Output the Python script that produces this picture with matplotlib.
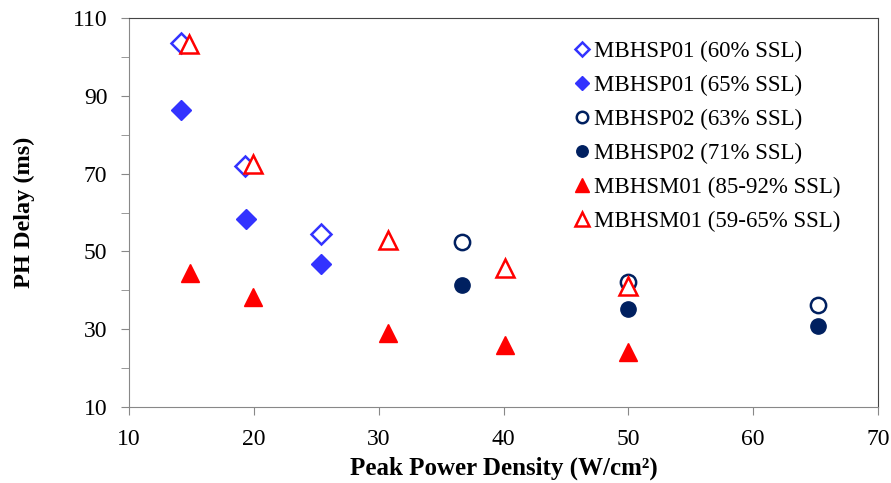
import matplotlib
matplotlib.use("Agg")
import matplotlib.pyplot as plt
import numpy as np

plt.rcParams['font.family'] = ['Liberation Serif', 'DejaVu Serif']

# data
sp01_60_x = [14.2, 19.3, 25.4]
sp01_60_y = [103.5, 72.0, 54.5]
sp01_65_x = [14.2, 19.4, 25.4]
sp01_65_y = [86.3, 58.4, 46.8]
sp02_63_x = [36.7, 50.0, 65.2]
sp02_63_y = [52.4, 42.1, 36.2]
sp02_71_x = [36.7, 50.0, 65.2]
sp02_71_y = [41.4, 35.2, 30.9]
sm01_hi_x = [14.9, 19.9, 30.75, 40.1, 50.0]
sm01_hi_y = [44.4, 38.3, 29.1, 26.0, 24.1]
sm01_lo_x = [14.8, 19.9, 30.75, 40.1, 50.0]
sm01_lo_y = [103.3, 72.4, 53.0, 45.7, 41.0]

blue = '#3333FF'
navy = '#002060'
red = '#FF0000'

fig = plt.figure(figsize=(8.91, 4.83), dpi=100)
ax = fig.add_axes([0.1448, 0.1573, 0.8406, 0.8054])

ax.plot(sp01_60_x, sp01_60_y, 'D', ms=10, mfc='white', mec=blue, mew=1.8, ls='none',
        label='MBHSP01 (60% SSL)')
ax.plot(sp01_65_x, sp01_65_y, 'D', ms=10, mfc=blue, mec=blue, ls='none',
        label='MBHSP01 (65% SSL)')
ax.plot(sp02_63_x, sp02_63_y, 'o', ms=11, mfc='white', mec=navy, mew=1.8, ls='none',
        label='MBHSP02 (63% SSL)')
ax.plot(sp02_71_x, sp02_71_y, 'o', ms=11, mfc=navy, mec=navy, ls='none',
        label='MBHSP02 (71% SSL)')
ax.plot(sm01_hi_x, sm01_hi_y, '^', ms=13, mfc=red, mec=red, ls='none',
        label='MBHSM01 (85-92% SSL)')
ax.plot(sm01_lo_x, sm01_lo_y, '^', ms=13, mfc='white', mec=red, mew=1.8, ls='none',
        label='MBHSM01 (59-65% SSL)')

ax.set_xlim(10, 70)
ax.set_ylim(10, 110)
ax.set_xticks(np.arange(10, 71, 10))
ax.set_yticks(np.arange(10, 111, 20))
ax.set_yticks(np.arange(20, 101, 20), minor=True)

for s in ['left', 'bottom']:
    ax.spines[s].set_color('#888888')
for s in ['top', 'right']:
    ax.spines[s].set_color('#444444')
ax.tick_params(which='both', direction='out', length=5.5, color='#888888',
               labelsize=17)
ax.tick_params(axis='x', pad=10)
ax.tick_params(axis='y', which='both', pad=10)

ax.set_xlabel('Peak Power Density (W/cm²)', fontsize=18, fontweight='bold', labelpad=5)
ax.set_ylabel('PH Delay (ms)', fontsize=17.5, fontweight='bold', labelpad=27)

ax.legend(loc='upper left', bbox_to_anchor=(0.629, 0.94), bbox_transform=fig.transFigure,
          frameon=False, fontsize=16.5, markerscale=0.75, handletextpad=0.05,
          handlelength=0.9, labelspacing=0.56, borderpad=0)

fig.savefig('out.png', dpi=100)
